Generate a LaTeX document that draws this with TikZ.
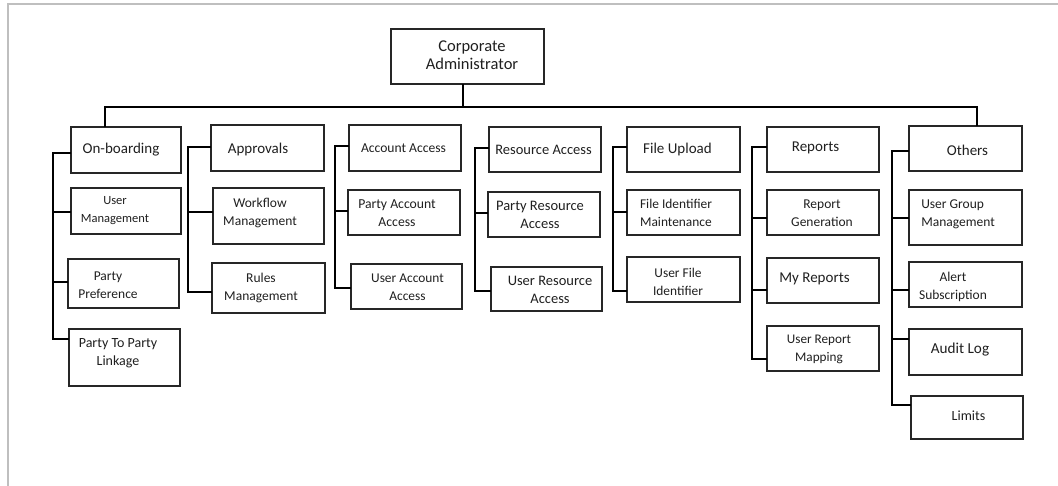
\documentclass[tikz,border=0pt]{standalone}
\usepackage{fontspec}
\setmainfont{Carlito}
\tikzset{
  box/.style={draw=black!85, line width=1.3pt, inner sep=0pt, outer sep=0pt},
  conn/.style={draw=black, line width=1.9pt},
  lbl/.style={text=black!88, align=center, inner sep=0pt},
  fs/.style={font=\fontsize{#1}{18}\selectfont},
}
\begin{document}
\begin{tikzpicture}[x=1pt,y=-1pt]
\useasboundingbox (0,0) rectangle (1058,486);
% frame
\draw[black!25, line width=2pt] (1058,4) -- (7.5,4) -- (7.5,486);

% boxes
\node[box, minimum width=153, minimum height=55] (ca)  at (467.5,56.5) {};
\node[box, minimum width=110, minimum height=46] (ob)  at (126,150) {};
\node[box, minimum width=110, minimum height=46] (um)  at (126,211) {};
\node[box, minimum width=111, minimum height=49] (pp)  at (123.5,283.5) {};
\node[box, minimum width=111, minimum height=57] (ppl) at (124.5,357.5) {};
\node[box, minimum width=113, minimum height=46] (ap)  at (267.5,148) {};
\node[box, minimum width=111, minimum height=56] (wm)  at (268.5,216) {};
\node[box, minimum width=113, minimum height=50] (rm)  at (268.5,288) {};
\node[box, minimum width=112, minimum height=46] (aa)  at (405,148) {};
\node[box, minimum width=112, minimum height=45] (paa) at (404,212.5) {};
\node[box, minimum width=111, minimum height=45] (uaa) at (406.5,286.5) {};
\node[box, minimum width=112, minimum height=45] (ra)  at (545,149.5) {};
\node[box, minimum width=112, minimum height=45] (pra) at (544,214.5) {};
\node[box, minimum width=111, minimum height=44] (ura) at (546.5,289) {};
\node[box, minimum width=113, minimum height=45] (fu)  at (683.5,149.5) {};
\node[box, minimum width=113, minimum height=45] (fim) at (683.5,212.5) {};
\node[box, minimum width=113, minimum height=45] (ufi) at (683.5,279.5) {};
\node[box, minimum width=112, minimum height=45] (rp)  at (823,149.5) {};
\node[box, minimum width=112, minimum height=45] (rg)  at (823,212.5) {};
\node[box, minimum width=112, minimum height=45] (mr)  at (823,280.5) {};
\node[box, minimum width=112, minimum height=45] (urm) at (823,348.5) {};
\node[box, minimum width=113, minimum height=45] (ot)  at (965.5,148.5) {};
\node[box, minimum width=113, minimum height=55] (ugm) at (965.5,217.5) {};
\node[box, minimum width=113, minimum height=45] (as)  at (965.5,284.5) {};
\node[box, minimum width=113, minimum height=46] (al)  at (965.5,352) {};
\node[box, minimum width=112, minimum height=43] (li)  at (967,417.5) {};

% labels
\node[lbl, fs=16.5] (tca)  at (472,55) {Corporate\\Administrator};
\node[lbl, fs=15]   (tob)  at (121,150) {On-boarding};
\node[lbl, fs=12.5] (tum)  at (115,211) {User\\Management};
\node[lbl, fs=13.5] (tpp)  at (108,285) {Party\\Preference};
\node[lbl, fs=14]   (tppl) at (118,353.5) {Party To Party\\Linkage};
\node[lbl, fs=15]   (tap)  at (258,150) {Approvals};
\node[lbl, fs=13.5] (twm)  at (260,212.5) {Workflow\\Management};
\node[lbl, fs=13.5] (trm)  at (261,288) {Rules\\Management};
\node[lbl, fs=13.6] (taa)  at (403.5,148.5) {Account Access};
\node[lbl, fs=13.7] (tpaa) at (397,213) {Party Account\\Access};
\node[lbl, fs=13.4] (tuaa) at (407.5,287.5) {User Account\\Access};
\node[lbl, fs=14.5] (tra)  at (543.5,150) {Resource Access};
\node[lbl, fs=14.5] (tpra) at (540,215) {Party Resource\\Access};
\node[lbl, fs=14.5] (tura) at (550,289.5) {User Resource\\Access};
\node[lbl, fs=15]   (tfu)  at (677.5,150) {File Upload};
\node[lbl, fs=13.4, align=left] (tfim) at (676,212.5) {File Identifier\\Maintenance};
\node[lbl, fs=13.4] (tufi) at (678,281.5) {User File\\Identifier};
\node[lbl, fs=15]   (trp)  at (815.5,148) {Reports};
\node[lbl, fs=13.5] (trg)  at (822,213) {Report\\Generation};
\node[lbl, fs=15]   (tmr)  at (814.5,279) {My Reports};
\node[lbl, fs=13.2] (turm) at (819,349) {User Report\\Mapping};
\node[lbl, fs=15]   (tot)  at (967.5,150) {Others};
\node[lbl, fs=13.5, align=left] (tugm) at (958,214) {User Group\\Management};
\node[lbl, fs=13.5] (tas)  at (953,287) {Alert\\Subscription};
\node[lbl, fs=15.2] (tal)  at (960,350) {Audit Log};
\node[lbl, fs=14]   (tli)  at (968.5,416) {Limits};

% top bus
\draw[conn] (ca.south -| 463,0) -- (463,107);
\draw[conn] (ob.north -| 105,0) -- (105,107) -- (977,107) -- (ot.north -| 977,0);

% column 1
\draw[conn] (ob.west |- 0,153) -- (53,153) -- (53,339) -- (ppl.west |- 0,339);
\draw[conn] (um.west |- 0,212) -- (53,212);
\draw[conn] (pp.west |- 0,282) -- (53,282);
% column 2
\draw[conn] (ap.west |- 0,147) -- (188,147) -- (188,292) -- (rm.west |- 0,292);
\draw[conn] (wm.west |- 0,212) -- (188,212);
% column 3
\draw[conn] (aa.west |- 0,146) -- (335,146) -- (335,288) -- (uaa.west |- 0,288);
\draw[conn] (paa.west |- 0,211) -- (335,211);
% column 4
\draw[conn] (ra.west |- 0,148) -- (475,148) -- (475,291) -- (ura.west |- 0,291);
\draw[conn] (pra.west |- 0,213) -- (475,213);
% column 5
\draw[conn] (fu.west |- 0,147) -- (613,147) -- (613,291) -- (ufi.west |- 0,291);
\draw[conn] (fim.west |- 0,212) -- (613,212);
% column 6
\draw[conn] (rp.west |- 0,147) -- (752,147) -- (752,359) -- (urm.west |- 0,359);
\draw[conn] (rg.west |- 0,218) -- (752,218);
\draw[conn] (mr.west |- 0,290) -- (752,290);
% column 7
\draw[conn] (ot.west |- 0,151) -- (892,151) -- (892,405) -- (li.west |- 0,405);
\draw[conn] (ugm.west |- 0,218) -- (892,218);
\draw[conn] (as.west |- 0,290) -- (892,290);
\draw[conn] (al.west |- 0,339) -- (892,339);
\end{tikzpicture}
\end{document}
